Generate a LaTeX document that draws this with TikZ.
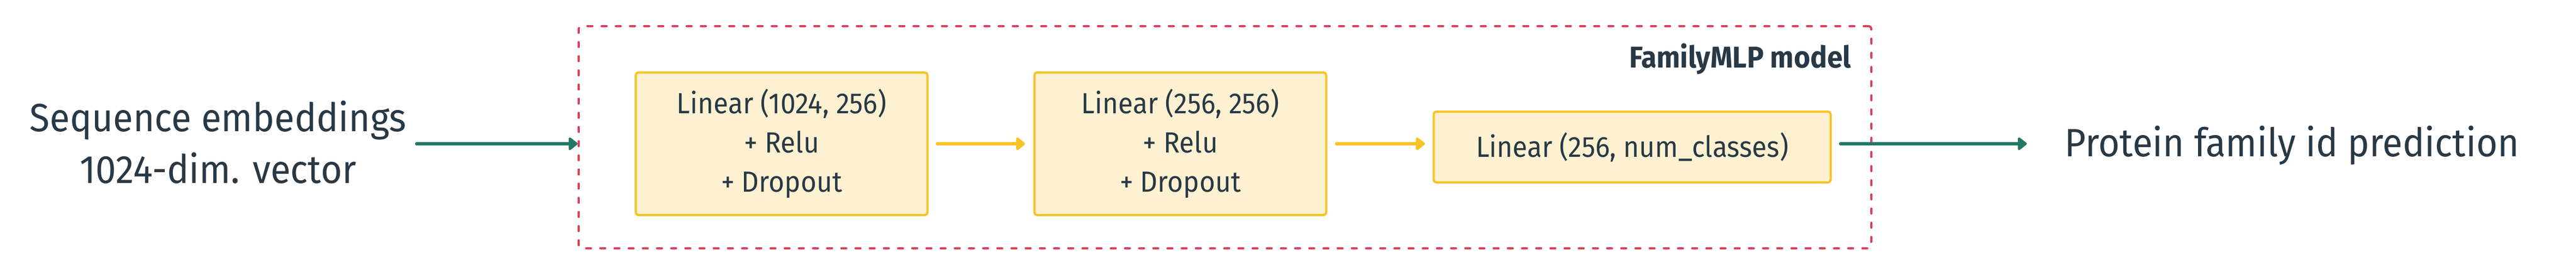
\documentclass[tikz,border=0pt]{standalone}
\usepackage{fontspec}
\setmainfont[FakeStretch=0.93]{Fira Sans}
\usepackage{tikz}
\usetikzlibrary{
	positioning,
	arrows.meta
}

\definecolor{ink}{HTML}{283845}
\definecolor{embgreen}{HTML}{217866}
\definecolor{layerfill}{HTML}{FDF1D2}
\definecolor{layerdraw}{HTML}{F8C326}
\definecolor{modelred}{HTML}{D6435B}

\tikzset{
	layer/.style={draw=layerdraw,fill=layerfill,line width=0.04cm,rounded corners=0.05cm,
		align=center,inner sep=0pt,font=\fontsize{15.2}{20.5}\selectfont},
	model/.style={draw=modelred,line width=0.04cm,line cap=round,rounded corners=0.05cm,
		dash pattern=on 0.09cm off 0.17cm,minimum width=23.70cm,minimum height=4.08cm,inner sep=0pt},
	flow/.style={draw=#1,line width=0.06cm,line cap=round,
		-{Triangle[length=0.18cm,width=0.27cm,round]}},
	flow/.default=layerdraw
}

\begin{document}
\begin{tikzpicture}[text=ink]
	\useasboundingbox (0,0) rectangle (47.23,5.04);
	\draw
		node [model]                                          (mlp)  at (22.46,2.52) {}
		node [layer,minimum width=5.35cm,minimum height=2.62cm] (lin1) at (14.33,2.40)
			{Linear (1024, 256)\\+ Relu\\+ Dropout}
		node [layer,minimum width=5.35cm,minimum height=2.62cm,right=1.92cm of lin1] (lin2)
			{Linear (256, 256)\\+ Relu\\+ Dropout}
		node [layer,minimum width=7.28cm,minimum height=1.30cm,right=1.93cm of lin2,yshift=-0.06cm] (lin3)
			{Linear (256, num\_classes)}
		node [anchor=base east,font=\fontsize{15.7}{19}\selectfont\bfseries]
			(title) at ([xshift=-0.27cm,yshift=-0.78cm]mlp.north east) {FamilyMLP model}
		node [align=center,inner sep=0pt,font=\fontsize{20.6}{27}\selectfont]
			(seq) at (4.00,2.43) {Sequence embeddings\\1024-dim. vector}
		node [anchor=base west,inner sep=0pt,font=\fontsize{20.6}{27}\selectfont]
			(pred) at (37.85,2.17) {Protein family id prediction}
	;
	% connectors
	\draw [flow=embgreen,shorten <=0.18cm] (seq.east |- lin1.west) -- (mlp.west |- lin1.west);
	\draw [flow,shorten <=0.16cm,shorten >=0.15cm] (lin1) -- (lin2);
	\draw [flow,shorten <=0.17cm,shorten >=0.14cm] (lin2.east) -- (lin2.east -| lin3.west);
	\draw [flow=embgreen,shorten <=0.16cm,shorten >=0.69cm] (lin2.east -| lin3.east) -- (lin2.east -| pred.west);
\end{tikzpicture}
\end{document}
